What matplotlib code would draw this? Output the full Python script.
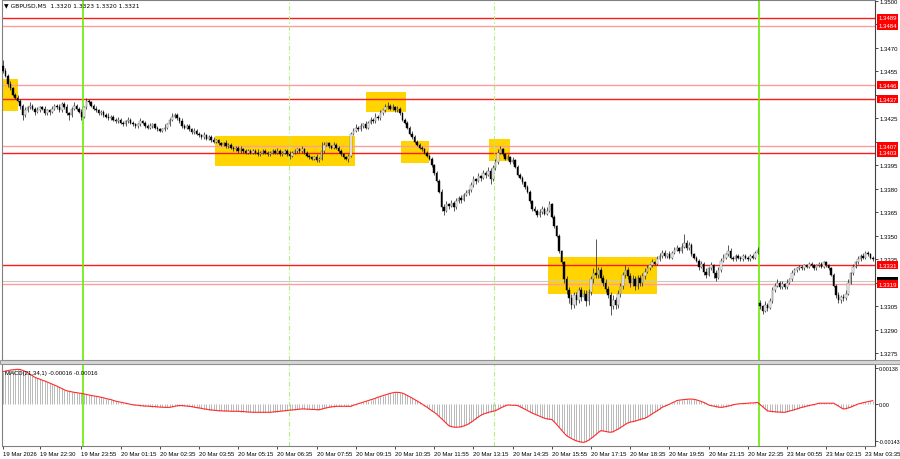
import numpy as np
import matplotlib
matplotlib.use("Agg")
import matplotlib.pyplot as plt
from matplotlib.patches import Rectangle
import matplotlib.transforms as mtransforms

# ---------------- data (prices in 0.0001 above 1.3000) ----------------
close_pips = [
    455,452,447,444,440,438,436,433,427,430,
    432,433,431,429,430,432,431,428,430,429,
    431,433,432,430,434,432,428,427,431,433,
    431,429,426,432,436,435,433,431,430,428,
    429,427,426,425,426,424,423,424,422,421,
    423,424,422,421,420,421,423,422,420,419,
    420,421,419,418,417,418,419,421,424,426,
    427,425,423,420,419,420,418,416,417,415,
    414,413,414,412,413,411,410,411,409,408,
    409,407,408,406,405,406,404,405,404,403,
    404,403,404,403,402,403,404,403,402,403,
    404,403,404,402,403,404,402,401,403,404,
    405,404,405,403,401,400,399,400,398,399,
    404,408,409,407,406,408,406,404,402,400,
    399,401,415,417,419,418,420,421,419,422,
    424,423,426,425,428,430,432,433,431,432,
    430,431,428,424,422,419,415,413,410,408,
    406,405,403,401,399,395,390,385,378,368,
    366,370,369,371,368,372,374,373,376,377,
    379,382,386,385,388,387,390,389,391,386,
    393,397,403,405,402,399,400,397,398,394,
    389,387,384,381,378,372,367,366,363,365,
    367,364,366,370,362,356,350,340,333,322,
    315,310,306,312,309,315,311,313,308,314,
    322,326,325,328,323,320,316,312,305,309,
    306,313,318,325,328,324,320,322,318,323,
    320,324,327,329,331,333,332,335,337,339,
    337,338,336,339,341,342,340,343,345,342,
    344,338,336,334,330,332,327,325,329,331,
    326,323,328,334,336,338,340,336,335,337,
    336,335,337,336,335,337,336,339,341,305,
    302,306,304,308,315,318,320,317,319,317,
    320,322,326,328,329,330,329,331,330,332,
    331,329,331,332,330,333,331,329,325,318,
    312,309,311,310,313,320,326,330,333,335,
    337,336,339,338,336,335,
]
up_wick = [
    4,2,1,2,1,1,2,1,1,2, 1,2,1,1,2,1,1,2,1,1, 2,1,1,2,1,1,2,1,1,2,
    1,1,2,1,2,1,1,1,2,1, 1,1,1,2,1,1,1,2,1,1, 1,2,1,1,1,1,2,1,1,1,
    2,1,1,1,1,1,2,1,1,2, 1,1,1,2,1,1,1,1,2,1, 1,1,2,1,1,1,2,1,1,1,
    1,2,1,1,1,1,1,2,1,1, 1,1,1,1,2,1,1,1,1,1, 1,1,2,1,1,1,1,2,1,1,
    1,1,2,1,1,1,1,1,2,1, 6,2,1,1,1,2,1,1,1,1, 1,1,1,2,2,1,2,1,2,1,
    2,1,2,1,2,1,2,2,1,2, 1,2,1,1,1,1,1,2,1,1, 1,1,1,1,1,1,1,1,1,2,
    2,2,1,2,1,2,1,2,1,2, 1,2,2,1,2,1,2,1,3,2, 2,2,2,2,1,1,2,1,2,1,
    1,1,1,1,1,1,1,2,1,2, 2,1,2,2,1,1,1,1,1,1, 2,2,3,2,2,2,2,2,2,2,
    2,3,22,2,2,2,2,2,2,3, 2,2,2,2,3,2,2,3,2,2, 2,2,2,2,1,2,1,2,2,2,
    2,1,2,1,2,2,1,2,6,2, 2,1,1,1,1,2,1,2,1,2, 1,2,2,2,2,1,4,2,1,1,
    1,1,1,1,1,1,1,1,2,2, 1,2,1,2,2,2,2,1,2,1, 2,1,2,1,1,1,1,1,1,1,
    1,1,1,1,1,1,1,1,1,1, 1,2,1,2,2,2,1,2,1,2, 1,2,1,1,1,1,
]
down_wick = [
    1,1,2,1,1,1,1,2,3,1, 1,1,1,2,1,1,1,1,1,2, 1,1,1,1,1,1,1,3,1,1,
    1,1,2,1,1,1,1,1,1,1, 1,1,1,1,1,1,1,1,1,1, 1,1,1,1,1,1,1,1,1,1,
    1,1,1,1,1,1,1,1,1,1, 1,1,1,1,1,1,1,1,1,1, 1,1,1,1,1,1,1,1,1,1,
    1,1,1,1,1,1,1,1,1,1, 1,1,1,1,1,1,1,1,1,1, 1,1,1,1,1,1,1,2,1,1,
    1,1,1,1,1,1,1,1,1,1, 1,1,1,1,1,1,1,1,1,1, 1,2,1,1,1,1,1,1,1,1,
    1,1,1,1,1,1,1,1,1,1, 1,1,1,1,1,1,1,1,1,1, 1,1,1,1,1,1,1,1,1,2,
    3,1,2,1,2,1,1,2,1,1, 1,1,1,2,1,2,1,2,1,3, 1,1,1,1,1,1,1,1,1,1,
    1,1,1,1,1,1,1,1,1,1, 1,1,1,1,1,1,1,1,1,2, 2,3,3,2,3,2,3,2,3,2,
    2,2,2,2,2,2,2,2,6,2, 3,2,2,2,2,2,3,2,3,2, 2,2,2,1,1,1,1,1,1,1,
    1,1,1,1,1,1,1,1,1,1, 1,1,1,1,2,1,2,2,1,1, 3,2,1,1,1,1,1,1,1,1,
    1,1,1,1,1,1,1,1,1,2, 2,1,2,1,1,1,1,1,1,1, 1,1,1,1,1,1,1,1,1,1,
    1,1,1,1,1,1,1,1,1,1, 2,2,2,2,1,1,1,1,1,1, 1,1,1,1,1,1,
]
first_open_pips = 458
gap_open = {309: 307}          # Monday open after weekend gap

macd_1e5 = [
    125,127,129,131,132,133,134,133,130,126,
    121,115,109,103,99,96,92,89,85,81,
    77,73,69,64,60,55,51,49,47,45,
    44,42,41,39,37,35,33,31,30,28,
    26,24,21,19,17,14,11,9,7,5,
    3,1,-1,-3,-4,-5,-6,-7,-8,-8,
    -9,-10,-10,-11,-12,-12,-13,-13,-13,-11,
    -9,-7,-6,-6,-7,-8,-9,-10,-12,-14,
    -15,-17,-19,-20,-22,-23,-24,-25,-26,-26,
    -27,-27,-27,-28,-28,-28,-28,-29,-29,-30,
    -31,-31,-32,-32,-32,-32,-32,-32,-32,-32,
    -31,-30,-29,-28,-27,-26,-25,-24,-23,-22,
    -21,-20,-19,-19,-20,-20,-21,-21,-22,-22,
    -20,-17,-15,-13,-11,-10,-9,-9,-9,-9,
    -9,-9,-9,-5,-2,1,4,7,10,13,
    16,19,22,26,29,32,35,38,41,43,
    45,45,44,42,38,33,28,23,17,12,
    6,0,-6,-12,-19,-26,-32,-39,-48,-57,
    -66,-75,-84,-87,-89,-90,-89,-88,-85,-81,
    -77,-71,-64,-57,-50,-44,-39,-36,-33,-30,
    -28,-26,-21,-16,-11,-7,-4,-4,-5,-5,
    -6,-10,-15,-20,-25,-30,-35,-39,-43,-47,
    -51,-55,-57,-59,-60,-69,-79,-90,-101,-112,
    -122,-128,-133,-138,-142,-145,-147,-148,-145,-140,
    -133,-126,-118,-110,-103,-104,-106,-108,-109,-107,
    -102,-97,-91,-85,-79,-73,-70,-68,-66,-63,
    -60,-57,-55,-50,-44,-38,-32,-26,-20,-13,
    -9,-5,-1,4,8,13,15,16,17,18,
    19,19,18,16,13,10,6,2,-4,-6,
    -8,-10,-12,-13,-12,-10,-8,-6,-3,-1,
    0,1,2,2,3,4,4,5,6,-2,
    -10,-18,-26,-28,-29,-30,-31,-31,-32,-32,
    -30,-27,-25,-22,-19,-16,-13,-11,-8,-6,
    -4,-2,0,3,3,3,3,3,3,3,
    -2,-8,-14,-19,-18,-15,-12,-8,-4,0,
    2,5,7,9,11,13,
]

levels = [1.3489, 1.3484, 1.3446, 1.3437, 1.3407, 1.3403, 1.3331, 1.3319]
level_strong = [True, False, False, True, False, True, True, False]
current_price = 1.3321
header = "\u25bc GBPUSD,M5  1.3320 1.3323 1.3320 1.3321"
macd_label = "MACD(21,34,1) -0.00016 -0.00016"

box_bars = [(-0.4, 6.1), (86.5, 143.7), (148.2, 164.5), (162.4, 173.9), (198.4, 207.0), (222.4, 267.0)]
box_prices = [(1.34296, 1.3450), (1.33944, 1.34136), (1.34289, 1.34417),
              (1.33964, 1.34104), (1.33977, 1.34117), (1.33127, 1.33363)]

day_lines = [33, 309]
session_lines = [117, 201]

tick_bars = [0, 15, 32, 48, 64, 80, 96, 112, 128, 144, 160, 176, 192, 208, 224,
             240, 256, 272, 288, 304, 320, 336, 352]
tick_labels = ["19 Mar 2026", "19 Mar 22:30", "19 Mar 23:55", "20 Mar 01:15", "20 Mar 02:35",
               "20 Mar 03:55", "20 Mar 05:15", "20 Mar 06:35", "20 Mar 07:55", "20 Mar 09:15",
               "20 Mar 10:35", "20 Mar 11:55", "20 Mar 13:15", "20 Mar 14:35", "20 Mar 15:55",
               "20 Mar 17:15", "20 Mar 18:35", "20 Mar 19:55", "20 Mar 21:15", "20 Mar 22:35",
               "23 Mar 00:55", "23 Mar 02:15", "23 Mar 03:35"]
price_ticks = [1.3275, 1.3290, 1.3305, 1.3320, 1.3335, 1.3350, 1.3365, 1.3380,
               1.3395, 1.3410, 1.3425, 1.3440, 1.3455, 1.3470, 1.3485, 1.3500]
hidden_price_ticks = [1.3320, 1.3410, 1.3440, 1.3485]   # covered by level labels
macd_ticks = [0.00138, 0.0, -0.00143]
macd_tick_labels = ["0.00138", "0.00", "-0.00143"]

# ---------------- derived ----------------
N = len(close_pips)
idx = np.arange(N)
close = 1.3 + np.array(close_pips) / 1e4
open_ = np.empty(N)
open_[0] = 1.3 + first_open_pips / 1e4
open_[1:] = close[:-1]
for k, v in gap_open.items():
    open_[k] = 1.3 + v / 1e4
hi = np.maximum(open_, close) + np.array(up_wick) / 1e4
lo = np.minimum(open_, close) - np.array(down_wick) / 1e4
macd = np.array(macd_1e5) * 1e-5

FONT = "Liberation Sans"
FS = 4.3
W, H = 900, 460
fig = plt.figure(figsize=(9, 4.6), dpi=100)
fig.patch.set_facecolor("white")
ax = fig.add_axes([2 / W, 1 - 361 / H, 873 / W, 360 / H])
axm = fig.add_axes([2 / W, 1 - 447 / H, 873 / W, 82 / H])

xl = ((2 - 3) / 2.45, (875 - 3) / 2.45)
for a in (ax, axm):
    a.set_xlim(*xl)
    for s in a.spines.values():
        s.set_color("#808080")
        s.set_linewidth(0.8)
    a.spines["right"].set_color("#404040")

ax.set_ylim(1.35 - (361 - 1.7) / 15660, 1.35 + (1.7 - 1) / 15660)
axm.set_ylim(-(447 - 405) * 3.86e-5, (405 - 365) * 3.86e-5)

# yellow boxes
for (b0, b1), (p0, p1) in zip(box_bars, box_prices):
    ax.add_patch(Rectangle((b0, p0), b1 - b0, p1 - p0, facecolor="#ffd400", edgecolor="none", zorder=1))

# level lines
for lv, strong in zip(levels, level_strong):
    ax.axhline(lv, color="#ff1a1a" if strong else "#ff9c9c", lw=1.0, zorder=2)
ax.axhline(current_price, color="#c8c8c8", lw=0.8, zorder=1.5)

# vertical lines
for b in day_lines:
    for a in (ax, axm):
        a.axvline(b - 0.4, color="#66ee00", lw=1.2, zorder=2.5)
for b in session_lines:
    for a in (ax, axm):
        a.axvline(b - 0.4, color="#aef07a", lw=0.8, ls=(0, (4, 2, 1, 2)), zorder=2.5)

# candles
bull = close >= open_
ax.vlines(idx, lo, hi, color="#2a2a2a", lw=0.55, zorder=3)
body_lo = np.minimum(open_, close)
body_h = np.maximum(np.abs(close - open_), 0.00003)
ax.bar(idx[bull], body_h[bull], bottom=body_lo[bull], width=0.62, color="white",
       edgecolor="#6a6a6a", linewidth=0.35, zorder=4)
ax.bar(idx[~bull], body_h[~bull], bottom=body_lo[~bull], width=0.62, color="black",
       edgecolor="black", linewidth=0.3, zorder=4)

# price axis
ax.yaxis.tick_right()
ax.set_yticks(price_ticks)
ax.set_yticklabels(["" if any(abs(p - h) < 1e-6 for h in hidden_price_ticks) else f"{p:.4f}"
                    for p in price_ticks], fontsize=FS, family=FONT)
ax.tick_params(axis="y", length=2, width=0.5, pad=1.5, colors="black")
ax.set_xticks([])

blend = mtransforms.blended_transform_factory(ax.transAxes, ax.transData)
ax.text(1.0035, current_price, f"{current_price:.4f}", transform=blend, ha="left", va="center",
        fontsize=FS, family=FONT, color="white", zorder=9, clip_on=False,
        bbox=dict(boxstyle="square,pad=0.25", fc="black", ec="none"))
for lv in levels:
    ax.text(1.0035, lv, f"{lv:.4f}", transform=blend, ha="left", va="center",
            fontsize=FS, family=FONT, color="white", zorder=10, clip_on=False,
            bbox=dict(boxstyle="square,pad=0.25", fc="#ff0000", ec="none"))

# MACD
axm.vlines(idx, 0, macd, color="#b8b8b8", lw=0.7, zorder=2)
axm.plot(idx, macd, color="#ff2a2a", lw=0.8, zorder=3)
axm.yaxis.tick_right()
axm.set_yticks(macd_ticks)
axm.set_yticklabels(macd_tick_labels, fontsize=3.9, family=FONT)
axm.tick_params(axis="y", length=2, width=0.5, pad=1, colors="black")
axm.set_xticks(tick_bars)
axm.set_xticklabels(tick_labels, fontsize=FS, family=FONT, ha="left")
axm.tick_params(axis="x", length=2, width=0.5, pad=1.5, colors="black")

# separator between panels
fig.patches.append(Rectangle((0, 1 - 365 / H), 1, 4 / H, transform=fig.transFigure,
                             facecolor="#d4d4d4", edgecolor="#8a8a8a", linewidth=0.6))

fig.text(4 / W, 1 - 6 / H, header, fontsize=FS, family=["DejaVu Sans"], va="center", ha="left")
axm.text(0.003, 0.93, macd_label, transform=axm.transAxes, fontsize=FS, family=FONT,
         va="top", ha="left", zorder=5)

fig.savefig("out.png", dpi=100, facecolor="white")
